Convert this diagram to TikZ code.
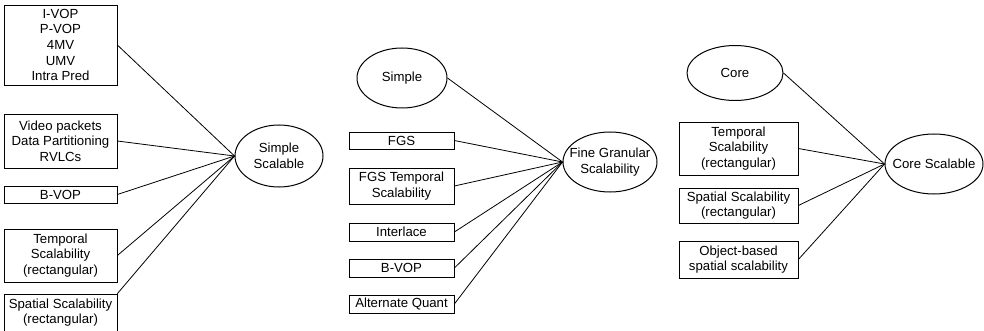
\documentclass[tikz,border=0pt]{standalone}
\usepackage{fontspec}
\setmainfont{Liberation Sans}
\usetikzlibrary{shapes.geometric}
\tikzset{
  every node/.style={font=\fontsize{13.2}{15.6}\selectfont},
  bx/.style={draw, line width=0.7pt, rectangle, inner sep=0pt, align=center},
  ell/.style={draw, line width=1pt, ellipse, inner sep=0pt},
  lbl/.style={inner sep=0pt, align=center},
  conn/.style={line width=0.8pt}
}
\begin{document}
\begin{tikzpicture}[x=1pt,y=-1pt]
\useasboundingbox (0,0) rectangle (984,331);
% left group
\node[bx, minimum width=113pt, minimum height=80pt] (b1) at (60.5,45) {I-VOP\\P-VOP\\4MV\\UMV\\Intra Pred};
\node[bx, minimum width=113pt, minimum height=54pt] (b2) at (60.5,141) {Video packets\\Data Partitioning\\RVLCs};
\node[bx, minimum width=113pt, minimum height=17pt] (b3) at (60.5,194.5) {B-VOP};
\node[bx, minimum width=113pt, minimum height=53pt] (b4) at (60.5,255.5) {Temporal\\Scalability\\(rectangular)};
\node[bx, minimum width=113pt, minimum height=37pt] (b5) at (60.5,312.5) {Spatial Scalability\\(rectangular)};
\node[ell, minimum width=88pt, minimum height=62pt] (ss) at (279,156) {};
\node[lbl] (sst) at (ss) {Simple\\Scalable};
\foreach \b in {b1,b2,b3,b4} \draw[conn] (\b.east) -- (ss.west);
\draw[conn] (b5.north east) -- (ss.west);
% middle group
\node[ell, minimum width=90pt, minimum height=60pt] (sp) at (402,78) {};
\node[lbl] (spt) at (sp) {Simple};
\node[bx, minimum width=105pt, minimum height=17pt] (m1) at (401.5,140.5) {FGS};
\node[bx, minimum width=105pt, minimum height=36pt] (m2) at (401.5,186) {FGS Temporal\\Scalability};
\node[bx, minimum width=105pt, minimum height=18pt] (m3) at (401.5,232) {Interlace};
\node[bx, minimum width=105pt, minimum height=18pt] (m4) at (401.5,268) {B-VOP};
\node[bx, minimum width=105pt, minimum height=18pt] (m5) at (401.5,304) {Alternate Quant};
\node[ell, minimum width=94pt, minimum height=60pt] (fg) at (610,162) {};
\node[lbl] (fgt) at (fg) {Fine Granular\\Scalability};
\draw[conn] (sp.east) -- (fg.west);
\foreach \b in {m1,m2,m3,m4,m5} \draw[conn] (\b.east) -- (fg.west);
% right group
\node[ell, minimum width=96pt, minimum height=55pt] (co) at (735,73) {};
\node[lbl] (cot) at (co) {Core};
\node[bx, minimum width=119pt, minimum height=53pt] (r1) at (738.5,148.5) {Temporal\\Scalability\\(rectangular)};
\node[bx, minimum width=119pt, minimum height=35pt] (r2) at (738.5,205.5) {Spatial Scalability\\(rectangular)};
\node[bx, minimum width=119pt, minimum height=37pt] (r3) at (738.5,259.5) {Object-based\\spatial scalability};
\node[ell, minimum width=98pt, minimum height=60pt] (cs) at (934,164) {};
\node[lbl] (cst) at (cs) {Core Scalable};
\draw[conn] (co.east) -- (cs.west);
\foreach \b in {r1,r2,r3} \draw[conn] (\b.east) -- (cs.west);
\end{tikzpicture}
\end{document}
